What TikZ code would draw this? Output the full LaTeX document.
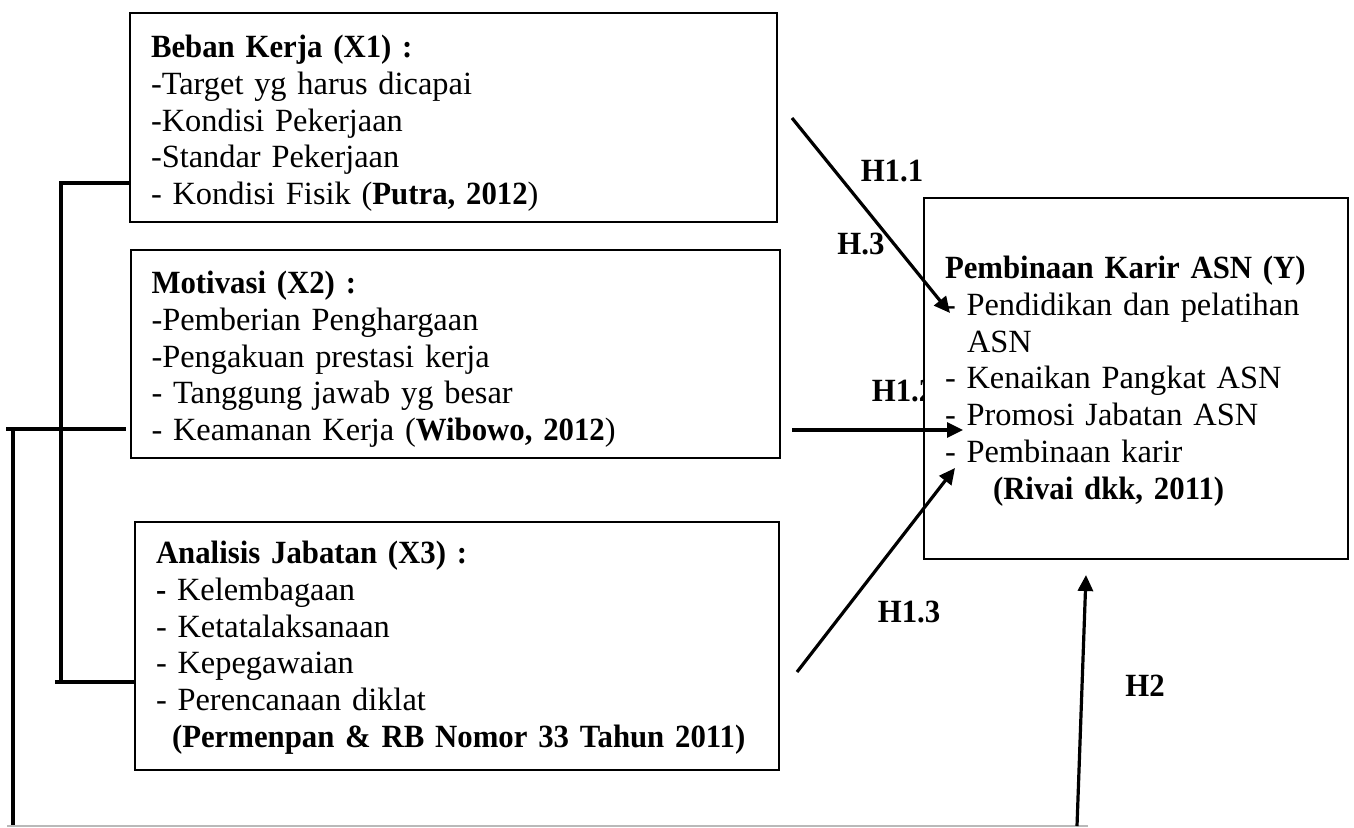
\documentclass[tikz,border=0pt]{standalone}
\usepackage{fontspec}
\setmainfont{Liberation Serif}[BoldFeatures={FakeStretch=0.95}]
\usepackage{xcolor}
\usepackage{tikz}
\usetikzlibrary{arrows.meta, positioning}

\begin{document}
\begin{tikzpicture}[
    x=0.5pt, y=-0.5pt,
    box/.style={rectangle, draw, line width=1pt, fill=white, anchor=north west, inner ysep=0pt, inner xsep=10.5pt, font=\fontsize{16.2}{18.4}\selectfont},
    hyp/.style={font=\fontsize{16.2}{18}\selectfont\bfseries, inner sep=0pt},
    relation/.style={-{Triangle[length=8pt, width=7.5pt]}, line width=1.6pt},
    link/.style={line width=1.8pt}
]
\useasboundingbox (0,0) rectangle (1354,827);

% Hypothesis labels
\node[hyp] (h11) at (892,171) {H1.1};
\node[hyp] (h3) at (861,244) {H.3};
\node[hyp] (h12) at (903,391) {H1.2};
\node[hyp] (h13) at (909,612) {H1.3};
\node[hyp] (h2) at (1145,686) {H2};

% Boxes
\node[box, text width=302.5pt, text height=22.25pt, text depth=82.25pt] (beban) at (129,12) {
    \begin{tabular}[t]{@{}l@{}}
    \textbf{Beban Kerja (X1) :} \\
    -Target yg harus dicapai \\
    -Kondisi Pekerjaan \\
    -Standar Pekerjaan \\
    - Kondisi Fisik (\textbf{Putra, 2012})
    \end{tabular}
};

\node[box, text width=303.75pt, text height=21.75pt, text depth=82.25pt] (motivasi) at (129.5,249) {
    \begin{tabular}[t]{@{}l@{}}
    \textbf{Motivasi (X2) :} \\
    -Pemberian Penghargaan \\
    -Pengakuan prestasi kerja \\
    - Tanggung jawab yg besar \\
    - Keamanan Kerja (\textbf{Wibowo, 2012})
    \end{tabular}
};

\node[box, text width=301pt, text height=20.75pt, text depth=103.25pt] (jabatan) at (134,521) {
    \begin{tabular}[t]{@{}l@{}}
    \textbf{Analisis Jabatan (X3) :} \\
    \textbf{-} Kelembagaan \\
    - Ketatalaksanaan \\
    - Kepegawaian \\
    - Perencanaan diklat \\
    \hspace{8pt}\textbf{(Permenpan \& RB Nomor 33 Tahun 2011)}
    \end{tabular}
};

\node[box, text width=191pt, text height=40.25pt, text depth=140.25pt] (karir) at (923,197) {
    \begin{tabular}[t]{@{}l@{}}
    \textbf{Pembinaan Karir ASN (Y)} \\
    - Pendidikan dan pelatihan \\
    \hspace{11pt}ASN \\
    - Kenaikan Pangkat ASN \\
    - Promosi Jabatan ASN \\
    - Pembinaan karir \\
    \hspace{24pt}\textbf{(Rivai dkk, 2011)}
    \end{tabular}
};

% Free ends
\coordinate (brtop) at (61,183);
\coordinate (brbot) at (61,682);
\coordinate (brleft) at (55,682);
\coordinate (lleft) at (6,429);
\coordinate (lright) at (126,429);
\coordinate (ltop) at (13,429);
\coordinate (lbot) at (13,826);
\coordinate (gleft) at (7,826);
\coordinate (gright) at (1088,826);
\coordinate (a2s) at (1077,826);
\coordinate (a2e) at (1086,575);
\coordinate (a11s) at (792,118);
\coordinate (a11e) at (950,313);
\coordinate (a12s) at (792,430);
\coordinate (a12e) at (963,430);
\coordinate (a13s) at (797,672);
\coordinate (a13e) at (955,468);

% Brackets
\draw[link] (beban.west |- brtop) -- (brtop) -- (brbot);
\draw[link] (brleft) -- (jabatan.west |- brleft);
\draw[link] (lleft) -- (lright);
\draw[link] (ltop) -- (lbot);
\draw[gray!55, line width=0.8pt] (gleft) -- (gright);

% Relations
\draw[relation] (a11s) -- (a11e);
\draw[relation] (a12s) -- (a12e);
\draw[relation] (a13s) -- (a13e);
\draw[relation] (a2s) -- (a2e);

\end{tikzpicture}
\end{document}
